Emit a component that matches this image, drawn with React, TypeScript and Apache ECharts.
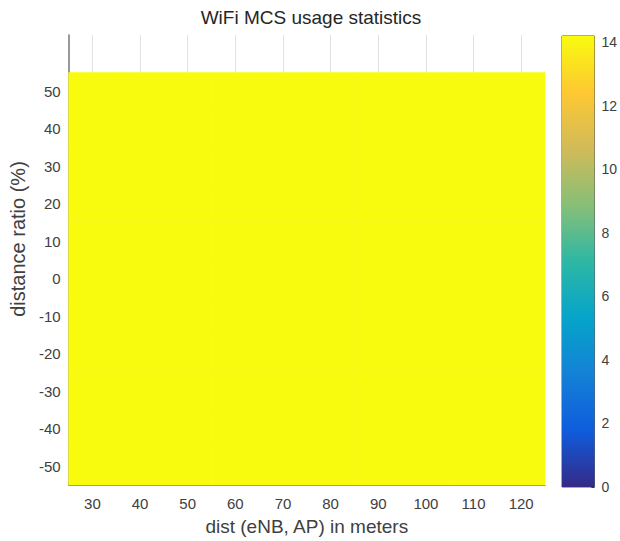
import React, { useEffect, useRef } from "react";
import * as echarts from "echarts";

const xCategories = ["30", "40", "50", "60", "70", "80", "90", "100", "110", "120"];
const yCategories = ["-50", "-40", "-30", "-20", "-10", "0", "10", "20", "30", "40", "50", "60"];
// rows: distance ratio -50 .. 50 ; columns: dist 30 .. 120
const mcsValues: number[][] = [
  [14.2, 14.2, 14.2, 14.2, 14.2, 14.2, 14.2, 14.2, 14.2, 14.2],
  [14.2, 14.2, 14.2, 14.2, 14.2, 14.2, 14.2, 14.2, 14.2, 14.2],
  [14.2, 14.2, 14.2, 14.2, 14.2, 14.2, 14.2, 14.2, 14.2, 14.2],
  [14.2, 14.2, 14.2, 14.2, 14.2, 14.2, 14.2, 14.2, 14.2, 14.2],
  [14.2, 14.2, 14.2, 14.2, 14.2, 14.2, 14.2, 14.2, 14.2, 14.2],
  [14.2, 14.2, 14.2, 14.2, 14.2, 14.2, 14.2, 14.2, 14.2, 14.2],
  [14.2, 14.2, 14.2, 14.2, 14.2, 14.2, 14.2, 14.2, 14.2, 14.2],
  [14.2, 14.2, 14.2, 14.2, 14.2, 14.2, 14.2, 14.2, 14.2, 14.2],
  [14.2, 14.2, 14.2, 14.2, 14.2, 14.2, 14.2, 14.2, 14.2, 14.2],
  [14.2, 14.2, 14.2, 14.2, 14.2, 14.2, 14.2, 14.2, 14.2, 14.2],
  [14.2, 14.2, 14.2, 14.2, 14.2, 14.2, 14.2, 14.2, 14.2, 14.2],
];
const colorMin = 0;
const colorMax = 14.2;
const colorTickInterval = 2;
const parula = ["#352a87", "#0f5cdd", "#1481d6", "#06a4ca", "#2eb7a4", "#87bf77", "#d1bb59", "#fec832", "#f9fb0e"];

const FONT = "Liberation Sans, Arial, sans-serif";
const TXT = "#404040";

export default function App() {
  const ref = useRef<HTMLDivElement>(null);
  useEffect(() => {
    if (!ref.current) return;
    const chart = echarts.init(ref.current, null, { renderer: "svg" });
    const heatData: [number, number, number][] = [];
    mcsValues.forEach((row, yi) => row.forEach((v, xi) => heatData.push([xi, yi, v])));
    const n = parula.length;
    const gradStops = parula.map((_, i) => ({ offset: i / (n - 1), color: parula[n - 1 - i] }));
    chart.setOption({
      animation: false,
      backgroundColor: "#ffffff",
      textStyle: { fontFamily: FONT },
      title: {
        text: "WiFi MCS usage statistics",
        left: 306,
        top: 3,
        textAlign: "center",
        textStyle: { fontFamily: FONT, fontSize: 19, fontWeight: "normal", color: "#262626" },
      },
      grid: [
        { left: 66, top: 35, width: 479, height: 452, containLabel: false },
        { left: 562, top: 36, width: 35, height: 451, show: true, borderColor: "#555", borderWidth: 1, backgroundColor: "transparent" },
      ],
      visualMap: {
        show: false,
        type: "continuous",
        min: colorMin,
        max: colorMax,
        seriesIndex: 0,
        inRange: { color: parula },
      },
      xAxis: [
        {
          type: "category",
          gridIndex: 0,
          data: xCategories,
          name: "dist (eNB, AP) in meters",
          nameLocation: "middle",
          nameGap: 32,
          nameTextStyle: { fontFamily: FONT, fontSize: 19, color: TXT },
          axisLine: { show: true, lineStyle: { color: "#8a8a70", width: 1 } },
          axisTick: { show: false },
          axisLabel: { fontFamily: FONT, fontSize: 15, color: TXT, margin: 11 },
          splitLine: { show: true, alignWithLabel: true, lineStyle: { color: "#e2e2e2", width: 1 } } as any,
        },
        {
          type: "category",
          gridIndex: 1,
          data: ["c"],
          show: false,
        },
      ],
      yAxis: [
        {
          type: "category",
          gridIndex: 0,
          data: yCategories,
          name: "distance ratio (%)",
          nameLocation: "middle",
          nameGap: 33,
          nameTextStyle: { fontFamily: FONT, fontSize: 20, color: TXT, padding: [0, 0, 0, 42] },
          axisLine: { show: true, lineStyle: { color: "#777", width: 1.5 } },
          axisTick: { show: false },
          axisLabel: {
            fontFamily: FONT,
            fontSize: 15,
            color: TXT,
            margin: 8,
            formatter: (v: string) => (v === "60" ? "" : v),
          },
          splitLine: { show: false },
        },
        {
          type: "value",
          gridIndex: 1,
          position: "right",
          min: colorMin,
          max: colorMax,
          interval: colorTickInterval,
          axisLine: { show: false },
          axisTick: { show: true, inside: true, length: 3, lineStyle: { color: "#333" } },
          axisLabel: { fontFamily: FONT, fontSize: 14, color: TXT, margin: 7, showMaxLabel: false },
          splitLine: { show: false },
        },
      ],
      series: [
        {
          type: "heatmap",
          xAxisIndex: 0,
          yAxisIndex: 0,
          data: heatData,
          itemStyle: { borderWidth: 0 },
          emphasis: { disabled: true },
        },
        {
          type: "bar",
          xAxisIndex: 1,
          yAxisIndex: 1,
          barWidth: "100%",
          data: [colorMax],
          silent: true,
          itemStyle: { color: new echarts.graphic.LinearGradient(0, 0, 0, 1, gradStops) },
        },
      ],
    });
    return () => chart.dispose();
  }, []);
  return <div ref={ref} style={{ position: "fixed", left: 0, top: 0, width: 620, height: 541 }} />;
}
